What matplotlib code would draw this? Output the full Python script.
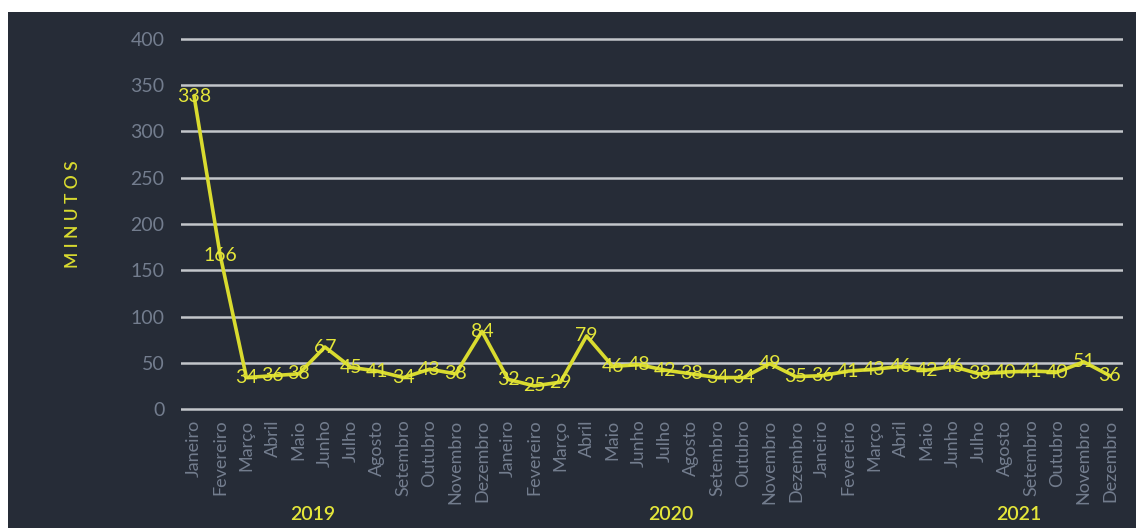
"""
Minutos por mês, 2019-2021
"""
import matplotlib
matplotlib.use("Agg")
import matplotlib.pyplot as plt
from matplotlib.patches import Rectangle

meses = ["Janeiro", "Fevereiro", "Março", "Abril", "Maio", "Junho", "Julho",
         "Agosto", "Setembro", "Outubro", "Novembro", "Dezembro"]
anos = ["2019", "2020", "2021"]

minutos_2019 = [338, 166, 34, 36, 38, 67, 45, 41, 34, 43, 38, 84]
minutos_2020 = [32, 25, 29, 79, 46, 48, 42, 38, 34, 34, 49, 35]
minutos_2021 = [36, 41, 43, 46, 42, 46, 38, 40, 41, 40, 51, 36]

minutos = minutos_2019 + minutos_2020 + minutos_2021
rotulos = meses * 3

fundo = "#262c37"
amarelo = "#d9db2f"
cinza = "#737d8e"
grade = "#c3c6ca"

plt.rcParams["font.family"] = ["Lato", "DejaVu Sans"]

W, H = 1136, 528
fig = plt.figure(figsize=(W / 100, H / 100), dpi=100, facecolor="white")

# dark panel (white strip on top and left)
fig.patches.append(Rectangle((8 / W, 0), 1 - 8 / W, (H - 12) / H,
                             transform=fig.transFigure, facecolor=fundo,
                             edgecolor="none", zorder=-10))

# axes placed so that 0 -> y=409 px and 400 -> y=39 px
px_per_unit = 370 / 400
y_lo, y_hi = -10, 410
bottom_px = (H - 409) - (0 - y_lo) * px_per_unit
height_px = (y_hi - y_lo) * px_per_unit
ax = fig.add_axes([181 / W, bottom_px / H, 942 / W, height_px / H])
ax.set_facecolor("none")
ax.set_zorder(5)

x = list(range(len(minutos)))
for y in range(0, 401, 50):
    ax.axhline(y, color=grade, lw=1.8, zorder=1)

ax.plot(x, minutos, color=amarelo, lw=2.6, zorder=2)
for xi, v in zip(x, minutos):
    ax.text(xi, v, str(v), ha="center", va="center", color="#e4e63a",
            fontsize=14, zorder=3)

ax.set_xlim(-0.5, len(minutos) - 0.5)
ax.set_ylim(y_lo, y_hi)
ax.set_yticks(range(0, 401, 50))
ax.set_xticks(x)
ax.set_xticklabels(rotulos, rotation=90, color=cinza, fontsize=13)
ax.tick_params(axis="y", colors=cinza, labelsize=14, length=0, pad=12)
ax.tick_params(axis="x", length=0, pad=1)
for s in ax.spines.values():
    s.set_visible(False)

# year labels under the months
for ano, xp in zip(anos, [313, 671, 1019]):
    fig.text(xp / W, 1 - 515 / H, ano, color="#e4e63a", fontsize=14,
             fontweight="semibold", ha="center", va="center")

fig.text(73 / W, 1 - 214 / H, "M I N U T O S", color=amarelo,
         fontsize=12.5, fontweight="semibold", rotation=90,
         ha="center", va="center")

fig.savefig("out.png", dpi=100, facecolor="white")
